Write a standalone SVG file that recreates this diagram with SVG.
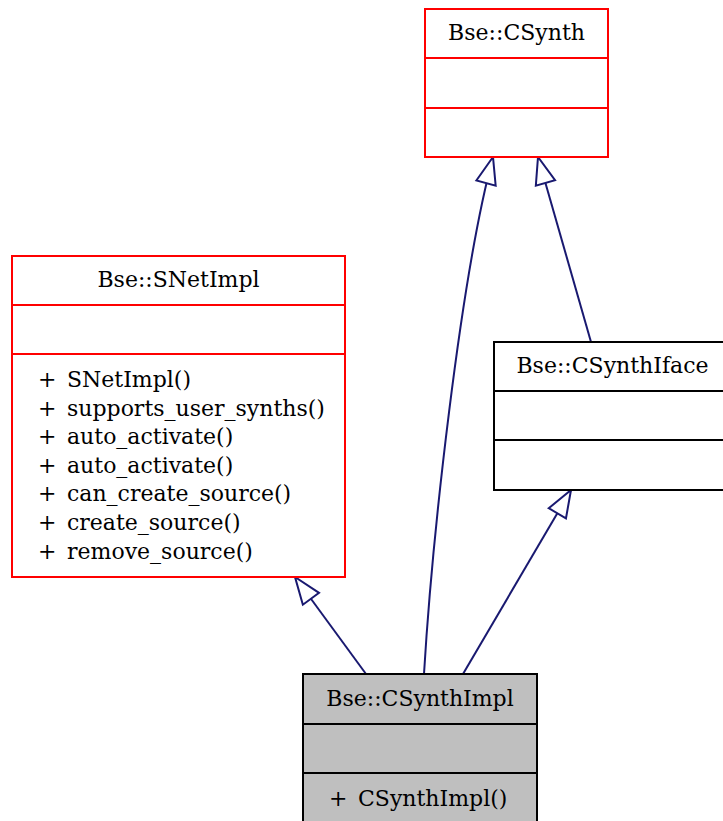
<svg xmlns="http://www.w3.org/2000/svg" width="723" height="821" viewBox="0 0 723 821">
  <style>
    text { font-family: "DejaVu Serif", "Liberation Serif", serif; font-size: 22px; fill: #000; }
    .title { text-anchor: middle; }
    .box { fill: #fff; stroke-width: 2; }
    .red { stroke: #ff0000; }
    .black { stroke: #000; }
    .cur { fill: #bfbfbf; stroke: #000; stroke-width: 2; }
    .div { stroke-width: 2; }
    .edge { fill: none; stroke: #191970; stroke-width: 2; marker-end: url(#inherit); }
  </style>
  <defs>
    <marker id="inherit" markerUnits="userSpaceOnUse" markerWidth="30" markerHeight="24" refX="28" refY="11" orient="auto" overflow="visible">
      <path d="M1,1 L28,11 L1,21 Z" fill="#fff" stroke="#191970" stroke-width="2"/>
    </marker>
  </defs>

  <g id="edges">
    <path class="edge" d="M424,674 C432,540 460,280 493,157"/>
    <path class="edge" d="M591,342 L538,157"/>
    <path class="edge" d="M366,674 L295,577"/>
    <path class="edge" d="M463,674 L571,490"/>
  </g>

  <g id="node-CSynth">
    <rect class="box red" x="425" y="9" width="183" height="148"/>
    <line class="div red" x1="425" y1="58" x2="608" y2="58"/>
    <line class="div red" x1="425" y1="108" x2="608" y2="108"/>
    <text class="title" x="516.5" y="40">Bse::CSynth</text>
  </g>

  <g id="node-SNetImpl">
    <rect class="box red" x="12" y="256" width="333" height="321"/>
    <line class="div red" x1="12" y1="305" x2="345" y2="305"/>
    <line class="div red" x1="12" y1="354" x2="345" y2="354"/>
    <text class="title" x="178.5" y="287">Bse::SNetImpl</text>
    <text x="38" y="387">+</text><text x="67" y="387">SNetImpl()</text>
    <text x="38" y="415.6">+</text><text x="67" y="415.6">supports_user_synths()</text>
    <text x="38" y="444.2">+</text><text x="67" y="444.2">auto_activate()</text>
    <text x="38" y="472.8">+</text><text x="67" y="472.8">auto_activate()</text>
    <text x="38" y="501.4">+</text><text x="67" y="501.4">can_create_source()</text>
    <text x="38" y="530">+</text><text x="67" y="530">create_source()</text>
    <text x="38" y="558.6">+</text><text x="67" y="558.6">remove_source()</text>
  </g>

  <g id="node-CSynthIface">
    <rect class="box black" x="494" y="342" width="237" height="148"/>
    <line class="div black" x1="494" y1="391" x2="731" y2="391"/>
    <line class="div black" x1="494" y1="440" x2="731" y2="440"/>
    <text class="title" x="612.5" y="373">Bse::CSynthIface</text>
  </g>

  <g id="node-CSynthImpl">
    <rect class="cur" x="303" y="674" width="234" height="152"/>
    <line class="div black" x1="303" y1="724" x2="537" y2="724"/>
    <line class="div black" x1="303" y1="773" x2="537" y2="773"/>
    <text class="title" x="420" y="706">Bse::CSynthImpl</text>
    <text x="329" y="806">+</text><text x="358" y="806">CSynthImpl()</text>
  </g>
</svg>
